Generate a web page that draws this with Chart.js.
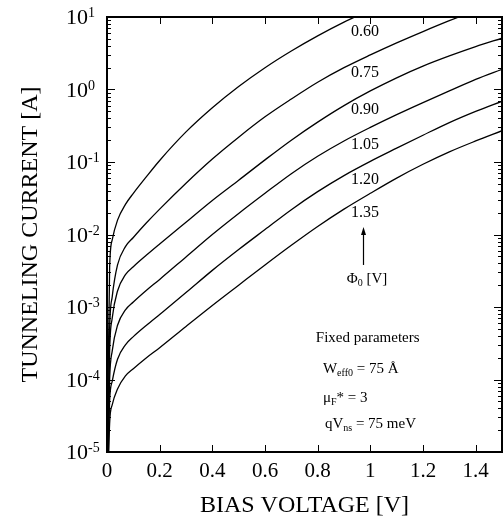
<!DOCTYPE html>
<html>
<head>
<meta charset="utf-8">
<script src="https://cdn.jsdelivr.net/npm/chart.js@4.4.0/dist/chart.umd.min.js"></script>
<style>
  html, body { margin: 0; padding: 0; background: #fff; }
  canvas { display: block; }
</style>
</head>
<body>
<canvas id="grafico" width="504" height="525"></canvas>
<script>
// --- dados (corrente em A) ---
const voltage = [0.002, 0.01, 0.02, 0.04, 0.07, 0.1, 0.15, 0.2, 0.3, 0.4, 0.5,
                 0.6, 0.7, 0.8, 0.9, 1.0, 1.1, 1.2, 1.3, 1.4, 1.5];

const phi060 = [2.0e-5, 3.5e-3, 8.5e-3, 0.0158, 0.026, 0.037, 0.063, 0.105, 0.26, 0.56, 1.10,
                2.0, 3.4, 5.5, 8.5, 12.6, null, null, null, null, null];
const phi075 = [8e-6, 5.0e-4, 1.4e-3, 3.8e-3, 6.8e-3, 9.1e-3, 0.0145, 0.0224, 0.051, 0.11, 0.22,
                0.42, 0.74, 1.26, 2.0, 3.0, 4.4, 6.3, 8.9, 12.3, null];
const phi090 = [5e-6, 2.5e-4, 7.1e-4, 1.66e-3, 2.8e-3, 3.6e-3, 5.2e-3, 7.4e-3, 0.0148, 0.0295, 0.056,
                0.107, 0.20, 0.355, 0.60, 0.955, 1.45, 2.1, 2.9, 3.9, 5.1];
const phi105 = [4e-6, 1.0e-4, 2.5e-4, 5.6e-4, 9.1e-4, 1.17e-3, 1.7e-3, 2.4e-3, 4.9e-3, 0.010, 0.0195,
                0.037, 0.069, 0.12, 0.195, 0.30, 0.45, 0.66, 0.955, 1.38, 1.9];
const phi120 = [3e-6, 5.0e-5, 9.5e-5, 1.9e-4, 3.0e-4, 3.9e-4, 5.6e-4, 7.9e-4, 1.58e-3, 3.2e-3, 6.2e-3,
                0.0117, 0.022, 0.039, 0.065, 0.102, 0.155, 0.234, 0.35, 0.50, 0.69];
const phi135 = [2e-6, 2.5e-5, 4.5e-5, 7.4e-5, 1.12e-4, 1.41e-4, 2.0e-4, 2.75e-4, 5.4e-4, 1.05e-3, 2.0e-3,
                3.8e-3, 7.1e-3, 0.0129, 0.0224, 0.037, 0.060, 0.093, 0.138, 0.195, 0.27];

const curveLabels = ['0.60', '0.75', '0.90', '1.05', '1.20', '1.35'];
const curveValues = [phi060, phi075, phi090, phi105, phi120, phi135];

const xTicks = [0, 0.2, 0.4, 0.6, 0.8, 1, 1.2, 1.4];
const xTickLabels = ['0', '0.2', '0.4', '0.6', '0.8', '1', '1.2', '1.4'];
const yExponents = [-5, -4, -3, -2, -1, 0, 1];

// posições dos textos (em coordenadas dos dados)
const labelVoltage = 0.98;
const labelCurrents = [6.2, 1.7, 0.52, 0.171, 0.0565, 0.0198];
const arrowFrom = 3.8e-3;
const arrowTo = 0.0127;
const phiTextAt = 2.5e-3;

const SERIF = '"Liberation Serif", "Times New Roman", serif';
const fonte = (px) => px + 'px ' + SERIF;

function pontos(valores) {
    const out = [];
    valores.forEach((v, i) => { if (v !== null) out.push({ x: voltage[i], y: v }); });
    return out;
}

// texto com subscritos: partes = [[texto, 'n' | 'sub'], ...]
function textoRico(ctx, partes, x, y, tam, alinhar) {
    const larg = partes.map(p => {
        ctx.font = fonte(p[1] === 'sub' ? Math.round(tam * 0.68) : tam);
        return ctx.measureText(p[0]).width;
    });
    const total = larg.reduce((a, b) => a + b, 0);
    let cx = alinhar === 'center' ? x - total / 2 : x;
    ctx.textAlign = 'left';
    ctx.textBaseline = 'alphabetic';
    partes.forEach((p, i) => {
        const sub = p[1] === 'sub';
        ctx.font = fonte(sub ? Math.round(tam * 0.68) : tam);
        ctx.fillText(p[0], cx, sub ? y + tam * 0.22 : y);
        cx += larg[i];
    });
}

const eixosPlugin = {
    id: 'eixos',
    afterDatasetsDraw(chart) {
        const { ctx, chartArea: a, scales: { x, y } } = chart;
        ctx.save();
        ctx.strokeStyle = '#000';
        ctx.fillStyle = '#000';

        // moldura
        ctx.lineWidth = 2;
        ctx.strokeRect(a.left, a.top, a.right - a.left, a.bottom - a.top);

        // ticks do eixo y (maiores e menores)
        ctx.lineWidth = 1;
        ctx.beginPath();
        yExponents.forEach(e => {
            for (let m = 1; m <= 9; m++) {
                if (e === yExponents[yExponents.length - 1] && m > 1) break;
                const py = Math.round(y.getPixelForValue(m * Math.pow(10, e))) + 0.5;
                const len = m === 1 ? 8 : 4;
                ctx.moveTo(a.left, py); ctx.lineTo(a.left + len, py);
                ctx.moveTo(a.right, py); ctx.lineTo(a.right - len, py);
            }
        });
        // ticks do eixo x
        xTicks.forEach(v => {
            const px = Math.round(x.getPixelForValue(v)) + 0.5;
            ctx.moveTo(px, a.bottom); ctx.lineTo(px, a.bottom - 7);
            ctx.moveTo(px, a.top); ctx.lineTo(px, a.top + 7);
        });
        ctx.stroke();

        // rótulos do eixo y: 10 com expoente
        yExponents.forEach(e => {
            const py = y.getPixelForValue(Math.pow(10, e));
            ctx.textAlign = 'left';
            ctx.textBaseline = 'alphabetic';
            ctx.font = fonte(22);
            ctx.fillText('10', 66, py + 7);
            const w = ctx.measureText('10').width;
            ctx.font = fonte(14);
            ctx.fillText(e < 0 ? '-' + (-e) : String(e), 66 + w, py);
        });

        // rótulos das curvas
        const lx = x.getPixelForValue(labelVoltage);
        ctx.font = fonte(16);
        ctx.textAlign = 'center';
        ctx.textBaseline = 'middle';
        curveLabels.forEach((t, i) => {
            ctx.fillText(t, lx, y.getPixelForValue(labelCurrents[i]));
        });

        // seta
        const ay0 = y.getPixelForValue(arrowFrom);
        const ay1 = y.getPixelForValue(arrowTo);
        const ax = Math.round(lx - 2) + 0.5;
        ctx.lineWidth = 1.2;
        ctx.beginPath();
        ctx.moveTo(ax, ay0); ctx.lineTo(ax, ay1 + 6);
        ctx.stroke();
        ctx.beginPath();
        ctx.moveTo(ax, ay1); ctx.lineTo(ax - 2.5, ay1 + 8); ctx.lineTo(ax + 2.5, ay1 + 8);
        ctx.closePath();
        ctx.fill();

        textoRico(ctx, [['\u03A6', 'n'], ['0', 'sub'], [' [V]', 'n']],
                  lx + 2, y.getPixelForValue(phiTextAt) + 5, 15, 'center');

        // parâmetros fixos
        ctx.font = fonte(15);
        ctx.textAlign = 'center';
        ctx.textBaseline = 'middle';
        ctx.fillText('Fixed parameters', x.getPixelForValue(0.99), y.getPixelForValue(3.7e-4));
        const px0 = x.getPixelForValue(0.82);
        textoRico(ctx, [['W', 'n'], ['eff0', 'sub'], [' = 75 \u00C5', 'n']],
                  px0, y.getPixelForValue(1.44e-4) + 5, 15, 'left');
        textoRico(ctx, [['\u03BC', 'n'], ['F', 'sub'], ['* = 3', 'n']],
                  px0, y.getPixelForValue(5.8e-5) + 5, 15, 'left');
        textoRico(ctx, [['qV', 'n'], ['ns', 'sub'], [' = 75 meV', 'n']],
                  px0 + 2, y.getPixelForValue(2.5e-5) + 5, 15, 'left');
        ctx.restore();
    }
};

new Chart(document.getElementById('grafico'), {
    type: 'line',
    data: {
        datasets: curveValues.map((vals, i) => ({
            label: curveLabels[i],
            data: pontos(vals),
            borderColor: '#000',
            borderWidth: 1.3,
            pointRadius: 0,
            fill: false,
            cubicInterpolationMode: 'monotone'
        }))
    },
    options: {
        responsive: false,
        animation: false,
        devicePixelRatio: 1,
        layout: { padding: { top: 17, right: 2, left: 0, bottom: 0 } },
        plugins: { legend: { display: false }, tooltip: { enabled: false } },
        scales: {
            x: {
                type: 'linear',
                min: 0,
                max: 1.5,
                afterBuildTicks: (s) => { s.ticks = xTicks.map(v => ({ value: v })); },
                afterFit: (s) => { s.height = 73; },
                grid: { display: false, drawTicks: false },
                border: { display: false },
                ticks: {
                    autoSkip: false,
                    maxRotation: 0,
                    padding: 7,
                    color: '#000',
                    font: { family: SERIF, size: 21 },
                    callback: (v, i) => xTickLabels[i]
                },
                title: {
                    display: true,
                    text: 'BIAS VOLTAGE [V]',
                    color: '#000',
                    font: { family: SERIF, size: 24 },
                    padding: { top: 0, bottom: 5 }
                }
            },
            y: {
                type: 'logarithmic',
                min: 1e-5,
                max: 10,
                afterFit: (s) => { s.width = 107; },
                grid: { display: false, drawTicks: false },
                border: { display: false },
                ticks: { display: false },
                title: {
                    display: true,
                    text: 'TUNNELING CURRENT [A]',
                    color: '#000',
                    font: { family: SERIF, size: 24 },
                    padding: { top: 16, bottom: 0 }
                }
            }
        }
    },
    plugins: [eixosPlugin]
});
</script>
</body>
</html>
